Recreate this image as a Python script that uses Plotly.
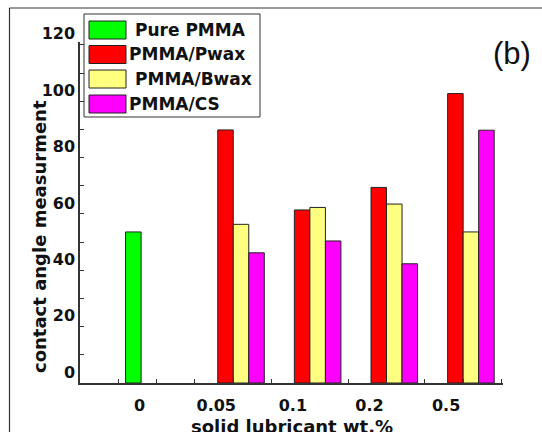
import plotly.graph_objects as go

# ---------------- data ----------------
categories = ["0", "0.05", "0.1", "0.2", "0.5"]
series_names = ["Pure PMMA", "PMMA/Pwax", "PMMA/Bwax", "PMMA/CS"]
pure_pmma = [53.6, None, None, None, None]
pmma_pwax = [None, 89.8, 61.4, 69.4, 102.7]
pmma_bwax = [None, 56.3, 62.3, 63.5, 53.6]
pmma_cs = [None, 46.2, 50.4, 42.3, 89.7]
series_values = [pure_pmma, pmma_pwax, pmma_bwax, pmma_cs]
y_tick_values = list(range(0, 121, 10))
y_tick_labels = [str(v) if v % 20 == 0 else "" for v in y_tick_values]

colors = ["#00FF00", "#FF0000", "#FFFF80", "#FF00FF"]

# ---------------- geometry ----------------
W, H = 542, 432
ML, MR, MT, MB = 80, 39, 42, 49
PL, PR, PT, PB = ML, W - MR, MT, H - MB


def px(x):
    return (x - PL) / (PR - PL)


def py(y):
    return (PB - y) / (PB - PT)


FONT = "DejaVu Sans"
xpos = list(range(len(categories)))

fig = go.Figure()
for name, vals, col in zip(series_names, series_values, colors):
    fig.add_trace(go.Bar(
        x=xpos, y=vals, name=name,
        marker=dict(color=col, line=dict(color="#222222", width=1)),
        showlegend=False,
    ))

x_tick_vals = [i * 0.5 for i in range(-2, 2 * len(categories) + 1)]
x_tick_text = [categories[int(v)] if float(v).is_integer() and 0 <= v < len(categories) else "" for v in x_tick_vals]

fig.update_layout(
    width=W, height=H, autosize=False,
    margin=dict(l=ML, r=MR, t=MT, b=MB, pad=0),
    paper_bgcolor="white", plot_bgcolor="white",
    barmode="group", bargap=0.19, bargroupgap=0,
    font=dict(family=FONT, size=16, color="#111111", weight="bold"),
    xaxis=dict(
        range=[-1.0, 4.52], tickmode="array", tickvals=x_tick_vals, ticktext=x_tick_text,
        ticks="inside", ticklen=4, tickcolor="#333333", tickwidth=1,
        showline=True, linecolor="#333333", linewidth=2, showgrid=False, zeroline=False,
        ticklabelshift=-17, ticklabelstandoff=7,
        tickfont=dict(family=FONT, size=16, color="#111111", weight="bold"),
    ),
    yaxis=dict(
        range=[0, 121], tickmode="array", tickvals=y_tick_values, ticktext=y_tick_labels,
        ticks="inside", ticklen=4, tickcolor="#333333", tickwidth=1,
        showline=True, linecolor="#333333", linewidth=1.5, showgrid=False, zeroline=False,
        ticklabelshift=-11, ticklabelstandoff=0,
        tickfont=dict(family=FONT, size=16, color="#111111", weight="bold"),
    ),
)

shapes = []
# outer frame (left and top edges visible)
shapes.append(dict(type="line", xref="paper", yref="paper", x0=px(9.5), x1=px(W + 5), y0=py(8), y1=py(8),
                   line=dict(color="#333333", width=1.2)))
shapes.append(dict(type="line", xref="paper", yref="paper", x0=px(9.5), x1=px(9.5), y0=py(8), y1=py(H + 5),
                   line=dict(color="#333333", width=1.2)))
# legend box
shapes.append(dict(type="rect", xref="paper", yref="paper", x0=px(84), x1=px(260), y0=py(14), y1=py(117),
                   line=dict(color="#333333", width=1), fillcolor="white"))
row_y = [30, 54.5, 79, 104]
text_x = [133, 127, 133, 127]
annotations = []
for name, col, ry, tx in zip(series_names, colors, row_y, text_x):
    shapes.append(dict(type="rect", xref="paper", yref="paper", x0=px(89), x1=px(126), y0=py(ry - 9), y1=py(ry + 9),
                       line=dict(color="#222222", width=1), fillcolor=col))
    annotations.append(dict(xref="paper", yref="paper", x=px(tx), y=py(ry), text=name, showarrow=False,
                            xanchor="left", yanchor="middle",
                            font=dict(family=FONT, size=17, color="#111111", weight="bold")))

# axis titles
annotations.append(dict(xref="paper", yref="paper", x=px(39.5), y=py(236.5), text="contact angle measurment",
                        textangle=-90, showarrow=False, xanchor="center", yanchor="middle",
                        font=dict(family=FONT, size=18, color="#111111", weight="bold")))
annotations.append(dict(xref="paper", yref="paper", x=px(292), y=py(427), text="solid lubricant wt.%",
                        showarrow=False, xanchor="center", yanchor="middle",
                        font=dict(family=FONT, size=18, color="#111111", weight="bold")))
# panel label
annotations.append(dict(xref="paper", yref="paper", x=px(512), y=py(54), text="(b)",
                        showarrow=False, xanchor="center", yanchor="middle",
                        font=dict(family="Liberation Sans", size=31, color="#111111", weight="normal")))

fig.update_layout(shapes=shapes, annotations=annotations)
fig.write_html("out.html")
